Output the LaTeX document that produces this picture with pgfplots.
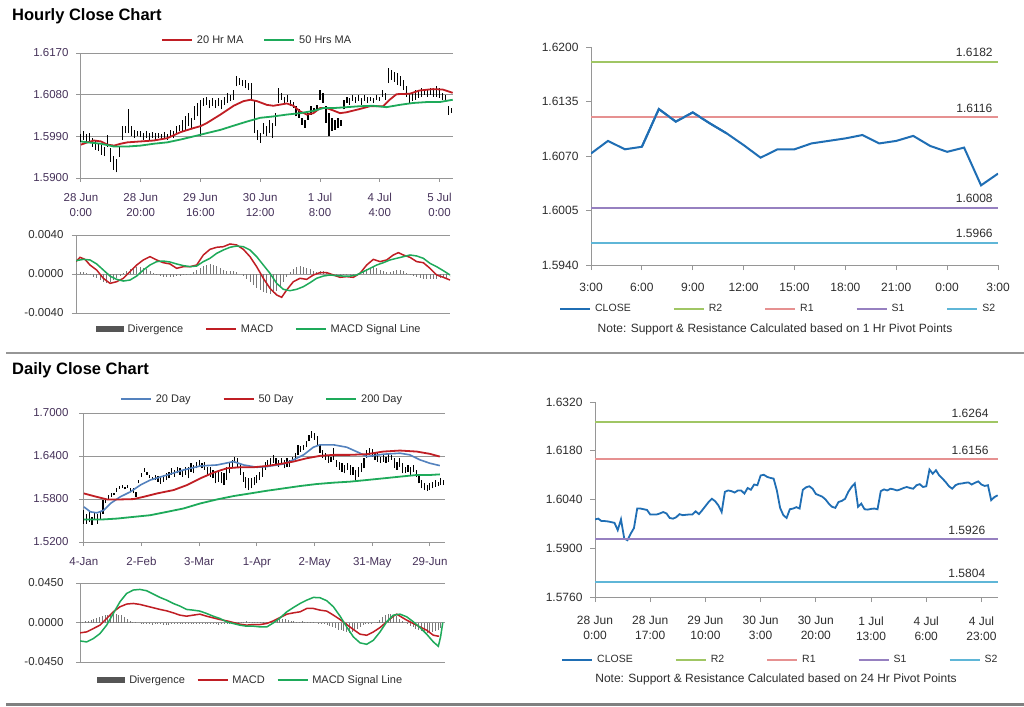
\documentclass[border=0pt]{standalone}
\usepackage{fontspec}
\setmainfont{Liberation Sans}
\usepackage{pgfplots}
\usepackage{pgfplotstable}
\pgfplotsset{compat=1.18}

\definecolor{maRed}{RGB}{192,30,36}
\definecolor{maGreen}{RGB}{30,170,90}
\definecolor{maBlue}{RGB}{84,130,190}
\definecolor{divGray}{RGB}{120,120,120}
\definecolor{divLeg}{RGB}{85,85,85}
\definecolor{axGray}{RGB}{150,150,150}
\definecolor{lblPurple}{RGB}{70,50,90}
\definecolor{txtDark}{RGB}{45,45,45}
\definecolor{closeBlue}{RGB}{31,110,180}
\definecolor{rTwo}{RGB}{160,198,100}
\definecolor{rOne}{RGB}{230,145,145}
\definecolor{sOne}{RGB}{150,128,192}
\definecolor{sTwo}{RGB}{95,182,215}

\tikzset{levelnode/.style={anchor=south, font=\fontsize{12}{14}\selectfont, text=txtDark, inner sep=2pt}}

% hourly candles: hour index, low, high
\pgfplotstableread{
h lo hi
0 1.5978 1.5994
1 1.5983 1.6001
2 1.5976 1.5994
3 1.5979 1.5997
4 1.5968 1.5986
5 1.5961 1.5983
6 1.5958 1.5976
7 1.5950 1.5972
8 1.5947 1.5968
9 1.5968 1.5992
10 1.5935 1.5965
11 1.5918 1.5947
12 1.5912 1.5940
13 1.5945 1.5968
14 1.5983 1.6012
15 1.5997 1.6012
16 1.5997 1.6048
17 1.5990 1.6012
18 1.5986 1.6004
19 1.5990 1.6001
20 1.5988 1.6001
21 1.5983 1.5997
22 1.5986 1.6001
23 1.5983 1.5997
24 1.5986 1.5999
25 1.5981 1.5997
26 1.5986 1.5997
27 1.5983 1.5994
28 1.5986 1.5999
29 1.5983 1.5996
30 1.5990 1.6004
31 1.5986 1.6001
32 1.5997 1.6012
33 1.6001 1.6015
34 1.5999 1.6026
35 1.6004 1.6033
36 1.6012 1.6040
37 1.6008 1.6030
38 1.6026 1.6055
39 1.6033 1.6062
40 1.5990 1.6069
41 1.6055 1.6073
42 1.6058 1.6076
43 1.6051 1.6069
44 1.6055 1.6073
45 1.6051 1.6069
46 1.6055 1.6073
47 1.6048 1.6069
48 1.6058 1.6076
49 1.6062 1.6084
50 1.6066 1.6080
51 1.6069 1.6091
52 1.6098 1.6120
53 1.6101 1.6116
54 1.6098 1.6112
55 1.6094 1.6112
56 1.6090 1.6105
57 1.6069 1.6105
58 1.5997 1.6069
59 1.5983 1.6004
60 1.5976 1.5997
61 1.5994 1.6019
62 1.5990 1.6012
63 1.5997 1.6026
64 1.5986 1.6019
65 1.6012 1.6040
66 1.6062 1.6094
67 1.6069 1.6084
68 1.6062 1.6076
69 1.6065 1.6080
70 1.6055 1.6069
71 1.6051 1.6065
72 1.6033 1.6055
73 1.6030 1.6048
74 1.6015 1.6030
75 1.6008 1.6026
76 1.6026 1.6040
77 1.6037 1.6055
78 1.6040 1.6051
79 1.6044 1.6058
80 1.6069 1.6091
81 1.6062 1.6084
82 1.6019 1.6055
83 1.5990 1.6040
84 1.6001 1.6030
85 1.6004 1.6026
86 1.6008 1.6030
87 1.6012 1.6026
88 1.6048 1.6069
89 1.6062 1.6076
90 1.6058 1.6073
91 1.6066 1.6080
92 1.6062 1.6076
93 1.6066 1.6080
94 1.6058 1.6073
95 1.6066 1.6080
96 1.6062 1.6076
97 1.6066 1.6076
98 1.6062 1.6073
99 1.6069 1.6080
100 1.6066 1.6076
101 1.6076 1.6091
102 1.6069 1.6084
103 1.6105 1.6138
104 1.6112 1.6134
105 1.6108 1.6130
106 1.6101 1.6127
107 1.6098 1.6120
108 1.6091 1.6112
109 1.6076 1.6098
110 1.6062 1.6084
111 1.6066 1.6084
112 1.6069 1.6091
113 1.6073 1.6088
114 1.6076 1.6094
115 1.6080 1.6091
116 1.6076 1.6091
117 1.6080 1.6094
118 1.6076 1.6091
119 1.6076 1.6098
120 1.6073 1.6094
121 1.6069 1.6084
122 1.6066 1.6080
123 1.6037 1.6055
124 1.6040 1.6051
}\hourlycandles

% daily candles: day index, low, high
\pgfplotstableread{
d lo hi
0 1.5457 1.5644
1 1.5457 1.5597
2 1.5481 1.5621
3 1.5434 1.5551
4 1.5504 1.5621
5 1.5457 1.5597
6 1.5527 1.5621
7 1.5597 1.5785
8 1.5738 1.5808
9 1.5785 1.5855
10 1.5831 1.5878
11 1.5850 1.5887
12 1.5901 1.5948
13 1.5944 1.5981
14 1.5953 1.5990
15 1.5934 1.5972
16 1.5957 1.5995
17 1.5901 1.5948
18 1.5878 1.5948
19 1.5831 1.5901
20 1.6018 1.6065
21 1.6112 1.6159
22 1.6182 1.6229
23 1.6135 1.6182
24 1.6088 1.6135
25 1.6065 1.6112
26 1.6065 1.6135
27 1.6042 1.6121
28 1.6009 1.6112
29 1.6042 1.6135
30 1.6065 1.6159
31 1.6088 1.6182
32 1.6135 1.6229
33 1.6112 1.6205
34 1.6159 1.6252
35 1.6135 1.6229
36 1.6112 1.6205
37 1.6135 1.6252
38 1.6088 1.6252
39 1.6182 1.6299
40 1.6159 1.6275
41 1.6229 1.6322
42 1.6252 1.6346
43 1.6229 1.6299
44 1.6205 1.6322
45 1.6135 1.6252
46 1.6112 1.6252
47 1.6088 1.6205
48 1.6018 1.6159
49 1.6042 1.6205
50 1.6018 1.6182
51 1.5995 1.6159
52 1.6065 1.6252
53 1.6159 1.6299
54 1.6229 1.6346
55 1.6299 1.6392
56 1.6252 1.6369
57 1.6135 1.6299
58 1.6042 1.6182
59 1.5948 1.6112
60 1.5925 1.6088
61 1.5948 1.6088
62 1.5995 1.6112
63 1.6018 1.6135
64 1.6065 1.6182
65 1.6112 1.6252
66 1.6205 1.6322
67 1.6252 1.6346
68 1.6275 1.6369
69 1.6299 1.6416
70 1.6275 1.6369
71 1.6252 1.6346
72 1.6275 1.6369
73 1.6229 1.6346
74 1.6252 1.6369
75 1.6252 1.6346
76 1.6322 1.6392
77 1.6346 1.6439
78 1.6416 1.6556
79 1.6462 1.6533
80 1.6486 1.6556
81 1.6523 1.6603
82 1.6603 1.6696
83 1.6649 1.6743
84 1.6626 1.6720
85 1.6533 1.6673
86 1.6439 1.6556
87 1.6369 1.6486
88 1.6346 1.6439
89 1.6299 1.6416
90 1.6322 1.6392
91 1.6346 1.6509
92 1.6252 1.6346
93 1.6205 1.6322
94 1.6182 1.6299
95 1.6159 1.6275
96 1.6205 1.6299
97 1.6135 1.6275
98 1.6135 1.6252
99 1.6065 1.6205
100 1.6112 1.6252
101 1.6182 1.6299
102 1.6229 1.6369
103 1.6369 1.6486
104 1.6416 1.6509
105 1.6392 1.6495
106 1.6346 1.6462
107 1.6322 1.6439
108 1.6299 1.6392
109 1.6322 1.6416
110 1.6299 1.6392
111 1.6322 1.6439
112 1.6346 1.6416
113 1.6229 1.6369
114 1.6205 1.6322
115 1.6252 1.6369
116 1.6159 1.6299
117 1.6159 1.6252
118 1.6182 1.6275
119 1.6135 1.6252
120 1.6182 1.6275
121 1.6112 1.6205
122 1.6018 1.6135
123 1.5948 1.6065
124 1.5925 1.6018
125 1.5915 1.5995
126 1.5925 1.6018
127 1.5948 1.6042
128 1.5972 1.6065
129 1.5981 1.6042
130 1.5995 1.6088
131 1.5995 1.6065
}\dailycandles

% 24-hour close, hourly
\pgfplotstableread{
h v
0 1.5983
1 1.5985
2 1.5978
3 1.5978
4 1.5977
5 1.5975
6 1.5973
7 1.5952
8 1.5983
9 1.5928
10 1.5923
11 1.5942
12 1.5958
13 1.6014
14 1.6014
15 1.6012
16 1.6010
17 1.5997
18 1.5997
19 1.5997
20 1.6000
21 1.6004
22 1.6000
23 1.5987
24 1.5985
25 1.5989
26 1.5998
27 1.5995
28 1.5996
29 1.5997
30 1.5997
31 1.6006
32 1.5998
33 1.6009
34 1.6021
35 1.6033
36 1.6042
37 1.6035
38 1.6023
39 1.6004
40 1.6062
41 1.6066
42 1.6064
43 1.6060
44 1.6066
45 1.6066
46 1.6057
47 1.6073
48 1.6068
49 1.6083
50 1.6081
51 1.6109
52 1.6111
53 1.6105
54 1.6102
55 1.6100
56 1.6066
57 1.6016
58 1.5995
59 1.5987
60 1.6012
61 1.6014
62 1.6018
63 1.6014
64 1.6068
65 1.6075
66 1.6078
67 1.6071
68 1.6056
69 1.6052
70 1.6048
71 1.6040
72 1.6028
73 1.6019
74 1.6016
75 1.6033
76 1.6036
77 1.6042
78 1.6062
79 1.6076
80 1.6086
81 1.6019
82 1.6028
83 1.6012
84 1.6011
85 1.6013
86 1.6014
87 1.6012
88 1.6064
89 1.6069
90 1.6066
91 1.6071
92 1.6069
93 1.6066
94 1.6069
95 1.6073
96 1.6076
97 1.6073
98 1.6071
99 1.6081
100 1.6084
101 1.6076
102 1.6078
103 1.6126
104 1.6114
105 1.6124
106 1.6109
107 1.6100
108 1.6090
109 1.6078
110 1.6071
111 1.6081
112 1.6085
113 1.6086
114 1.6088
115 1.6089
116 1.6083
117 1.6088
118 1.6092
119 1.6083
120 1.6079
121 1.6081
122 1.6038
123 1.6047
124 1.6052
}\dailyclose

\pgfplotsset{
  leftpanel/.style={scale only axis, anchor=north west,
    axis x line*=bottom, axis y line*=left,
    axis line style={axGray, line width=0.8pt},
    tick style={axGray, line width=0.8pt}, major tick length=4pt, tick align=outside,
    ymajorgrids, grid style={axGray, line width=0.8pt},
    ticklabel style={font=\fontsize{11.5}{15}\selectfont, text=lblPurple},
    xticklabel style={align=center, yshift=-8pt},
    legend image code/.code={\draw[##1] (0pt,0pt) -- (30pt,0pt);},
    legend columns=-1,
    legend style={draw=none, fill=none, font=\fontsize{11}{13}\selectfont, text=txtDark,
      /tikz/every odd column/.append style={column sep=2pt}},
  },
  macdpanel/.style={scale only axis, anchor=north west,
    axis x line=none, axis y line*=left, xtick=\empty,
    axis line style={axGray, line width=0.8pt},
    tick style={axGray, line width=0.8pt}, major tick length=4pt, tick align=outside,
    ymajorgrids, grid style={axGray, line width=0.8pt},
    ticklabel style={font=\fontsize{11.5}{14}\selectfont, text=txtDark},
    legend columns=-1,
    legend style={draw=none, fill=none, font=\fontsize{11}{13}\selectfont, text=txtDark,
      /tikz/every odd column/.append style={column sep=2pt}},
  },
  pivotpanel/.style={scale only axis, anchor=north west,
    axis x line*=bottom, axis y line*=left,
    axis line style={axGray, line width=0.8pt},
    tick style={axGray, line width=0.8pt}, major tick length=5pt, tick align=outside,
    ticklabel style={font=\fontsize{12}{15}\selectfont, text=txtDark},
    yticklabel style={xshift=-4pt},
    xticklabel style={align=center},
    legend image code/.code={\draw[##1] (0pt,0pt) -- (30pt,0pt);},
    legend columns=-1,
    legend style={draw=none, fill=none, font=\fontsize{10.5}{12}\selectfont, text=txtDark,
      /tikz/every odd column/.append style={column sep=2pt},
      /tikz/every even column/.append style={column sep=40pt}},
  },
  divlegend/.style={legend image code/.code={\fill[divLeg] (0pt,-2.5pt) rectangle (27pt,2.5pt);}},
  linelegend/.style={legend image code/.code={\draw[##1] (0pt,0pt) -- (30pt,0pt);}},
  candle/.style={forget plot, draw=none, mark=none,
    error bars/.cd, y dir=plus, y explicit, error mark=none,
    error bar style={draw=black, solid, line width=1.2pt}},
}

\begin{document}
\begin{tikzpicture}
\useasboundingbox (0pt,0pt) rectangle (1024pt,-706pt);
\fill[white] (0pt,0pt) rectangle (1024pt,-706pt);

\node[anchor=west, font=\fontsize{16.5}{18}\selectfont\bfseries, inner sep=0pt] at (12pt,-16pt) {Hourly Close Chart};
\node[anchor=west, font=\fontsize{16.5}{18}\selectfont\bfseries, inner sep=0pt] at (12pt,-370pt) {Daily Close Chart};
\draw[axGray, line width=1.5pt] (6pt,-353pt) -- (1024pt,-353pt);
\draw[gray, line width=2.5pt] (6pt,-704.5pt) -- (1024pt,-704.5pt);

% ---------- A: hourly candles ----------
\begin{axis}[leftpanel, at={(80pt,-53pt)}, width=373pt, height=125pt,
  yticklabel style={xshift=-4pt},
  xmin=-0.3, xmax=124.5, ymin=1.5900, ymax=1.6170,
  ytick={1.5900,1.5990,1.6080,1.6170}, yticklabels={1.5900,1.5990,1.6080,1.6170},
  xtick={0,20,40,60,80,100,120},
  xticklabels={{28 Jun\\0:00},{28 Jun\\20:00},{29 Jun\\16:00},{30 Jun\\12:00},{1 Jul\\8:00},{4 Jul\\4:00},{5 Jul\\0:00}},
  legend style={at={(0.475,1)}, anchor=south, yshift=4pt,
    /tikz/every even column/.append style={column sep=18pt}}]
\addplot[candle] table[x=h, y=lo, y error expr=\thisrow{hi}-\thisrow{lo}] {\hourlycandles};
\addplot[maRed, line width=1.8pt] coordinates {(0,1.5972) (2.2,1.5977) (4.4,1.5981) (6.7,1.5979) (8.9,1.5972) (11.1,1.5970) (13.3,1.5974) (15.6,1.5977) (20,1.5979) (24.4,1.5981) (28.9,1.5986) (33.3,1.5999) (37.8,1.6008) (40,1.6012) (42.2,1.6019) (46.7,1.6037) (51.1,1.6056) (54.4,1.6066) (56.7,1.6069) (58.9,1.6066) (62.2,1.6058) (64.4,1.6056) (68.9,1.6061) (71.1,1.6056) (73.3,1.6044) (75.6,1.6037) (77.8,1.6040) (80,1.6051) (82.2,1.6051) (84.4,1.6046) (86.7,1.6040) (88.9,1.6042) (93.3,1.6049) (96.7,1.6055) (101.1,1.6055) (103.3,1.6069) (105.6,1.6081) (110,1.6082) (113.3,1.6089) (117.8,1.6092) (121.1,1.6091) (124.4,1.6084)};
\addlegendentry{20 Hr MA}
\addplot[maGreen, line width=1.8pt] coordinates {(0,1.5979) (2.2,1.5977) (6.7,1.5974) (11.1,1.5968) (15.6,1.5968) (20,1.5970) (24.4,1.5974) (28.9,1.5977) (33.3,1.5983) (37.8,1.5990) (42.2,1.5997) (46.7,1.6004) (51.1,1.6013) (55.6,1.6022) (60,1.6030) (64.4,1.6033) (68.9,1.6037) (73.3,1.6040) (77.8,1.6045) (81.1,1.6051) (84.4,1.6051) (88.9,1.6053) (93.3,1.6055) (97.8,1.6056) (102.2,1.6053) (106.7,1.6058) (111.1,1.6062) (115.6,1.6064) (120,1.6064) (124.4,1.6069)};
\addlegendentry{50 Hrs MA}
\end{axis}

% ---------- B: hourly MACD ----------
\begin{axis}[macdpanel, at={(76pt,-235pt)}, width=374pt, height=78pt,
  yticklabel style={xshift=-5pt},
  xmin=48, xmax=1170, ymin=-40, ymax=40,
  ytick={-40,0,40}, yticklabels={-0.0040,0.0000,0.0040},
  legend style={at={(0.49,0)}, anchor=north, yshift=-7pt,
    /tikz/every even column/.append style={column sep=20pt}}]
\addplot[divGray, line width=0.8pt, ycomb, mark=none, divlegend] coordinates {(50,1) (60,2) (70,2.5) (80,1) (90,-1) (100,-3) (110,-4) (120,-6) (130,-8) (140,-9) (150,-8) (160,-6) (170,-4) (180,-2) (190,1) (200,3) (210,5) (220,6) (230,7) (240,7.5) (250,6) (260,5) (270,3) (280,1) (290,-1) (300,-2) (310,-3) (320,-3.5) (330,-3) (340,-3) (350,-2.5) (360,-2) (370,-1.5) (380,-1) (390,0.5) (400,2) (410,4) (420,6) (430,8) (440,9) (450,10) (460,9.5) (470,8) (480,6) (490,4) (500,3) (510,3.5) (520,3) (530,2) (540,0) (550,-2) (560,-5) (570,-8) (580,-11) (590,-14) (600,-16) (610,-18) (620,-19) (630,-20) (640,-19) (650,-17) (660,-13) (670,-8) (680,-3) (690,2) (700,5) (710,7) (720,8) (730,7.5) (740,6) (750,5) (760,3) (770,2.5) (780,3) (790,3) (800,2) (810,1) (820,0.5) (830,-0.5) (840,-1) (850,-1) (860,-0.5) (870,-1) (880,-1) (890,0) (900,1) (910,3) (920,5) (930,6) (940,7) (950,6) (960,4) (970,3) (980,2) (990,2) (1000,3) (1010,4) (1020,4.5) (1030,3) (1040,1) (1050,-1) (1060,-2) (1070,-3) (1080,-4) (1090,-5) (1100,-5.5) (1110,-5) (1120,-5) (1130,-5) (1140,-4.5) (1150,-4) (1160,-4) (1170,-3)};
\addlegendentry{Divergence}
\addplot[maRed, line width=1.5pt, linelegend] coordinates {(48,12.7) (60,17.1) (75,15.0) (90,9.2) (110,4.1) (130,-4.4) (150,-9.6) (170,-7.9) (190,-4.4) (210,2.4) (230,9.2) (250,14.4) (270,17.8) (290,14.4) (310,11.6) (330,10.3) (350,5.8) (370,7.5) (390,7.5) (410,9.2) (430,19.5) (450,25.3) (470,27.4) (490,28.0) (510,30.8) (530,29.8) (550,25.3) (570,17.8) (590,7.5) (610,-4.4) (630,-14.7) (650,-21.5) (665,-23.9) (680,-16.4) (700,-7.9) (720,-4.4) (740,-5.5) (760,-1.0) (780,1.4) (800,1.4) (820,-1.0) (840,-3.4) (860,-2.7) (880,-3.4) (900,0.7) (920,9.2) (940,15.0) (960,12.7) (980,14.4) (1000,19.5) (1015,21.9) (1030,19.5) (1050,17.1) (1070,12.7) (1090,11.6) (1110,5.8) (1130,-1.0) (1150,-3.4) (1170,-6.2)};
\addlegendentry{MACD}
\addplot[maGreen, line width=1.5pt, linelegend] coordinates {(48,13.7) (70,15.0) (90,14.4) (110,10.3) (130,4.1) (150,-2.1) (170,-5.5) (190,-7.2) (210,-6.2) (230,-2.1) (250,4.1) (270,9.2) (290,12.7) (310,13.3) (330,12.3) (350,10.3) (370,8.6) (390,7.5) (410,8.2) (430,12.7) (450,16.1) (470,21.2) (490,24.6) (510,27.4) (530,28.7) (550,28.0) (570,24.6) (590,17.8) (610,9.2) (630,0.7) (650,-9.6) (670,-15.7) (690,-17.1) (710,-15.7) (730,-13.0) (750,-8.9) (770,-4.4) (790,-2.1) (810,-1.0) (830,-1.7) (850,-2.1) (870,-2.1) (890,-1.0) (910,2.4) (930,5.8) (950,9.2) (970,11.6) (990,14.4) (1010,16.1) (1030,17.8) (1050,19.5) (1070,18.5) (1090,16.1) (1110,10.9) (1130,7.5) (1150,3.4) (1170,-1.0)};
\addlegendentry{MACD  Signal Line}
\end{axis}

% ---------- C: 1 hr pivot ----------
\begin{axis}[pivotpanel, at={(591pt,-47pt)}, width=407pt, height=218pt,
  xticklabel style={yshift=-10pt},
  xmin=0, xmax=24, ymin=1.5940, ymax=1.6200,
  ytick={1.5940,1.6005,1.6070,1.6135,1.6200}, yticklabels={1.5940,1.6005,1.6070,1.6135,1.6200},
  xtick={0,3,...,24}, xticklabels={3:00,6:00,9:00,12:00,15:00,18:00,21:00,0:00,3:00},
  legend style={at={(0.46,0)}, anchor=north, yshift=-35pt}]
\addplot[closeBlue, line width=2pt] coordinates {(0,1.6073) (1,1.6088) (2,1.6078) (3,1.6081) (4,1.6126) (5,1.6111) (6,1.6122) (7,1.6109) (8,1.6097) (9,1.6083) (10,1.6068) (11,1.6078) (12,1.6078) (13,1.6085) (14,1.6088) (15,1.6091) (16,1.6095) (17,1.6085) (18,1.6088) (19,1.6094) (20,1.6082) (21,1.6075) (22,1.6080) (23,1.6035) (24,1.6049)};
\addlegendentry{CLOSE}
\addplot[rTwo, line width=2pt] coordinates {(0,1.6182) (24,1.6182)};
\addlegendentry{R2}
\addplot[rOne, line width=2pt] coordinates {(0,1.6116) (24,1.6116)};
\addlegendentry{R1}
\addplot[sOne, line width=2pt] coordinates {(0,1.6008) (24,1.6008)};
\addlegendentry{S1}
\addplot[sTwo, line width=2pt] coordinates {(0,1.5966) (24,1.5966)};
\addlegendentry{S2}
\addplot[closeBlue, line width=2pt, forget plot] coordinates {(3,1.6081) (4,1.6126) (5,1.6111) (6,1.6122) (7,1.6109) (8,1.6097)};
\node[levelnode, yshift=3pt] at (axis cs:22.6,1.6182) {1.6182};
\node[levelnode, yshift=3pt] at (axis cs:22.6,1.6116) {1.6116};
\node[levelnode, yshift=3pt] at (axis cs:22.6,1.6008) {1.6008};
\node[levelnode, yshift=3pt] at (axis cs:22.6,1.5966) {1.5966};
\end{axis}
\node[font=\fontsize{12}{14}\selectfont, text=txtDark] at (775pt,-329pt) {Note: Support \& Resistance Calculated based on 1 Hr Pivot Points};

% ---------- D: daily candles ----------
\begin{axis}[leftpanel, at={(83pt,-413pt)}, width=362pt, height=129pt,
  yticklabel style={xshift=-7pt},
  xmin=-0.3, xmax=131.5, ymin=1.5200, ymax=1.7000,
  ytick={1.52,1.58,1.64,1.70}, yticklabels={1.5200,1.5800,1.6400,1.7000},
  xtick={0,21,42,63,84,105,126},
  xticklabels={4-Jan,2-Feb,3-Mar,1-Apr,2-May,31-May,29-Jun},
  legend style={at={(0.495,1)}, anchor=south, yshift=5pt,
    /tikz/every even column/.append style={column sep=30pt}}]
\addplot[candle] table[x=d, y=lo, y error expr=\thisrow{hi}-\thisrow{lo}] {\dailycandles};
\addplot[maBlue, line width=1.6pt] coordinates {(0,1.5691) (2.4,1.5621) (4.8,1.5607) (7.3,1.5644) (9.7,1.5738) (13.3,1.5831) (17.0,1.5901) (20.6,1.5995) (24.2,1.6065) (30.3,1.6135) (36.3,1.6205) (42.4,1.6261) (48.5,1.6275) (54.5,1.6322) (58.2,1.6275) (63.0,1.6243) (66.6,1.6252) (72.7,1.6289) (76.3,1.6346) (80.0,1.6416) (83.6,1.6523) (86.0,1.6556) (90.9,1.6556) (95.7,1.6523) (100.6,1.6439) (103.0,1.6392) (109.0,1.6425) (115.1,1.6439) (118.7,1.6416) (122.4,1.6346) (126.0,1.6299) (129.6,1.6266)};
\addlegendentry{20 Day}
\addplot[maRed, line width=1.8pt] coordinates {(0,1.5878) (3.6,1.5841) (8.5,1.5794) (13.3,1.5794) (18.2,1.5799) (21.8,1.5831) (26.7,1.5878) (32.7,1.5925) (37.6,1.5995) (42.4,1.6088) (47.2,1.6168) (52.1,1.6229) (56.9,1.6243) (61.8,1.6243) (66.6,1.6261) (71.5,1.6289) (76.3,1.6322) (81.2,1.6369) (86.0,1.6402) (90.9,1.6416) (96.9,1.6416) (103.0,1.6425) (109.0,1.6462) (115.1,1.6476) (121.2,1.6462) (126.0,1.6430) (129.6,1.6392)};
\addlegendentry{50 Day}
\addplot[maGreen, line width=1.8pt] coordinates {(0,1.5513) (6.1,1.5513) (12.1,1.5527) (18.2,1.5551) (24.2,1.5574) (30.3,1.5621) (36.3,1.5668) (42.4,1.5738) (48.5,1.5794) (54.5,1.5841) (60.6,1.5878) (66.6,1.5915) (72.7,1.5948) (78.7,1.5981) (84.8,1.6009) (90.9,1.6028) (96.9,1.6042) (103.0,1.6065) (109.0,1.6088) (115.1,1.6112) (121.2,1.6135) (126.0,1.6135) (129.6,1.6144)};
\addlegendentry{200 Day}
\end{axis}

% ---------- E: daily MACD ----------
\begin{axis}[macdpanel, at={(80pt,-583pt)}, width=365pt, height=79pt,
  yticklabel style={xshift=-9pt},
  xmin=0, xmax=131.5, ymin=-45, ymax=45,
  ytick={-45,0,45}, yticklabels={-0.0450,0.0000,0.0450},
  legend style={at={(0.468,0)}, anchor=north, yshift=-9pt,
    /tikz/every even column/.append style={column sep=10pt}}]
\addplot[divGray, line width=0.8pt, ycomb, mark=none, divlegend] coordinates {(0,0.5) (1,1) (2,1.5) (3,2) (4,3) (5,4) (6,5) (7,6) (8,7) (9,8) (10,9) (11,10) (12,10.5) (13,10) (14,9) (15,8) (16,6) (17,4) (18,2) (19,1) (20,0.5) (21,0) (22,-0.5) (23,-1) (24,-1.5) (25,-2) (26,-2.5) (27,-2) (28,-1.5) (29,-2) (30,-2.5) (31,-3) (32,-2.5) (33,-2) (34,-1.5) (35,-1) (36,-1.5) (37,-2) (38,-1.5) (39,-1) (40,-0.5) (41,-1) (42,-1.5) (43,-2) (44,-2) (45,-1.5) (46,-1) (47,-1) (48,-1.5) (49,-2) (50,-2.5) (51,-2) (52,-1.5) (53,-1) (54,-0.5) (55,0) (56,0.5) (57,1) (58,0.5) (59,1) (60,1.5) (61,1) (62,0.5) (63,1) (64,1) (65,0.5) (66,1) (67,0.5) (68,0) (69,1) (70,2) (71,3) (72,4) (73,4.5) (74,4) (75,3) (76,2) (77,1.5) (78,1) (79,1) (80,1.5) (81,1) (82,0.5) (83,1) (84,0.5) (85,0) (86,-0.5) (87,-1) (88,-2) (89,-3) (90,-4) (91,-5) (92,-6) (93,-8) (94,-9) (95,-10) (96,-11) (97,-12) (98,-11) (99,-9) (100,-7) (101,-5) (102,-3) (103,-2) (104,-1) (105,-0.5) (106,0) (107,1) (108,3) (109,6) (110,8) (111,10) (112,10) (113,9) (114,7) (115,4) (116,2) (117,0) (118,-2) (119,-4) (120,-5) (121,-7) (122,-9) (123,-10) (124,-11) (125,-12) (126,-12) (127,-11) (128,-10) (129,-9) (130,-6) (131,0)};
\addlegendentry{Divergence}
\addplot[maRed, line width=1.5pt, linelegend] coordinates {(0,-11.8) (2.4,-10.7) (4.8,-6.9) (7.2,-3.0) (9.6,4.6) (12,12.2) (14.4,17.9) (16.8,21.0) (19.2,21.7) (21.6,20.6) (24,18.7) (26.4,16.8) (28.8,14.9) (31.2,13.3) (33.6,11.0) (36,8.4) (38.4,7.2) (40.8,8.4) (43.2,9.5) (45.6,7.2) (48,5.3) (50.4,3.4) (52.8,1.9) (55.2,0) (57.6,-1.9) (60,-3.0) (62.5,-2.3) (64.9,-2.3) (67.3,-1.1) (69.7,1.9) (72.1,5.7) (74.5,9.5) (76.9,11.0) (79.3,12.2) (81.7,16.0) (84.1,16.0) (86.5,14.1) (88.9,13.0) (91.3,8.4) (93.7,3.4) (96.1,-2.3) (98.5,-8.0) (100.9,-13.3) (103.3,-14.5) (105.7,-10.7) (108.1,-5.7) (110.5,0.8) (112.9,7.2) (114.1,9.5) (115.3,7.2) (117.7,2.7) (120.1,-1.1) (122.5,-5.0) (124.9,-8.8) (127.3,-14.5) (129.1,-15.6) (129.4,-15.6)};
\addlegendentry{MACD}
\addplot[maGreen, line width=1.5pt, linelegend] coordinates {(0,-21.0) (2.4,-22.1) (4.8,-18.3) (7.2,-12.6) (9.6,-3.0) (12,10.3) (14.4,23.6) (16.8,33.1) (19.2,37.0) (21.6,37.7) (24,36.2) (26.4,32.4) (28.8,28.6) (31.2,25.5) (33.6,21.7) (36,18.7) (38.4,14.9) (40.8,14.1) (43.2,13.0) (45.6,10.3) (48,7.2) (50.4,4.6) (52.8,0.8) (55.2,-1.1) (57.6,-3.0) (60,-4.2) (62.5,-4.2) (64.9,-5.0) (67.3,-5.0) (69.7,-0.4) (72.1,5.3) (74.5,12.2) (76.9,17.1) (79.3,21.7) (81.7,25.5) (84.1,28.6) (86.5,28.2) (88.9,24.8) (91.3,17.9) (93.7,7.2) (96.1,-5.0) (98.5,-16.4) (100.9,-23.2) (103.3,-24.8) (105.7,-20.2) (108.1,-10.7) (110.5,0.8) (112.9,8.4) (115.3,9.5) (117.7,6.5) (120.1,0.8) (122.5,-5.7) (124.9,-13.3) (127.3,-22.1) (129.1,-27.1) (129.9,-16.4) (130.7,0)};
\addlegendentry{MACD  Signal Line}
\end{axis}

% ---------- F: 24 hr pivot ----------
\begin{axis}[pivotpanel, at={(595pt,-402pt)}, width=403pt, height=195pt,
  xticklabel style={yshift=-11pt},
  xmin=0, xmax=124.1, ymin=1.5760, ymax=1.6320,
  ytick={1.5760,1.5900,1.6040,1.6180,1.6320}, yticklabels={1.5760,1.5900,1.6040,1.6180,1.6320},
  xtick={0,17,34,51,68,85,102,119},
  xticklabels={{28 Jun\\0:00},{28 Jun\\17:00},{29 Jun\\10:00},{30 Jun\\3:00},{30 Jun\\20:00},{1 Jul\\13:00},{4 Jul\\6:00},{4 Jul\\23:00}},
  legend style={at={(0.46,0)}, anchor=north, yshift=-54pt}]
\addplot[closeBlue, line width=1.8pt] table[x=h, y=v] {\dailyclose};
\addlegendentry{CLOSE}
\addplot[rTwo, line width=2pt] coordinates {(0,1.6264) (124.1,1.6264)};
\addlegendentry{R2}
\addplot[rOne, line width=2pt] coordinates {(0,1.6156) (124.1,1.6156)};
\addlegendentry{R1}
\addplot[sOne, line width=2pt] coordinates {(0,1.5926) (124.1,1.5926)};
\addlegendentry{S1}
\addplot[sTwo, line width=2pt] coordinates {(0,1.5804) (124.1,1.5804)};
\addlegendentry{S2}
\node[levelnode, yshift=2pt] at (axis cs:115.5,1.6264) {1.6264};
\node[levelnode, yshift=2pt] at (axis cs:115.5,1.6156) {1.6156};
\node[levelnode, yshift=2pt] at (axis cs:114.5,1.5926) {1.5926};
\node[levelnode, yshift=2pt] at (axis cs:114.5,1.5804) {1.5804};
\end{axis}
\node[font=\fontsize{12}{14}\selectfont, text=txtDark] at (776pt,-679pt) {Note: Support \& Resistance Calculated based on 24 Hr Pivot Points};

\end{tikzpicture}
\end{document}
